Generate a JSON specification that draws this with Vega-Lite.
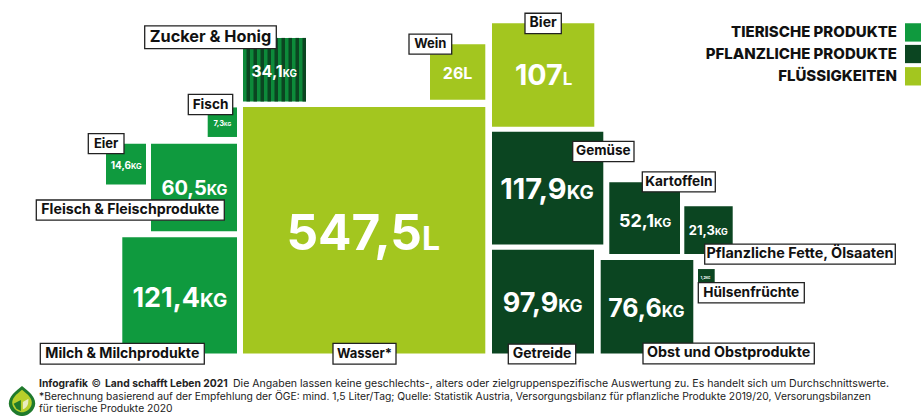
{"$schema":"https://vega.github.io/schema/vega-lite/v6.json","width":921,"height":416,"padding":0,"autosize":{"type":"fit","contains":"padding"},"background":"white","config":{"view":{"stroke":null}},
"resolve":{"scale":{"size":"independent"}},
"datasets":{
"blocks":[
{"name":"Zucker & Honig","cat":"Zucker","x":243,"x2":306,"y":38,"y2":101.7,"num":"34,1","unit":"KG","split":282.7,"ym":77.3},
{"name":"Fisch","cat":"Tierische Produkte","x":207.7,"x2":237,"y":107.7,"y2":137.3,"num":"7,3","unit":"KG","split":224,"ym":126},
{"name":"Eier","cat":"Tierische Produkte","x":106,"x2":146,"y":144,"y2":185,"num":"14,6","unit":"KG","split":131,"ym":169},
{"name":"Fleisch & Fleischprodukte","cat":"Tierische Produkte","x":151,"x2":237,"y":144,"y2":231.7,"num":"60,5","unit":"KG","split":206.7,"ym":195.7},
{"name":"Milch & Milchprodukte","cat":"Tierische Produkte","x":122.3,"x2":237,"y":237.7,"y2":354.3,"num":"121,4","unit":"KG","split":200,"ym":307.3},
{"name":"Wasser*","cat":"Flüssigkeiten","x":243,"x2":485.3,"y":107.3,"y2":354.3,"num":"547,5","unit":"L","split":422,"ym":251},
{"name":"Wein","cat":"Flüssigkeiten","x":430,"x2":485.3,"y":44.3,"y2":100,"num":"26","unit":"L","split":463.3,"ym":79},
{"name":"Bier","cat":"Flüssigkeiten","x":492,"x2":594.3,"y":23.3,"y2":127,"num":"107","unit":"L","split":562.7,"ym":85.7},
{"name":"Gemüse","cat":"Pflanzliche Produkte","x":492,"x2":603.3,"y":132,"y2":245,"num":"117,9","unit":"KG","split":566.7,"ym":199},
{"name":"Getreide","cat":"Pflanzliche Produkte","x":492,"x2":594,"y":250.3,"y2":354.3,"num":"97,9","unit":"KG","split":558.3,"ym":312.7},
{"name":"Kartoffeln","cat":"Pflanzliche Produkte","x":609.3,"x2":680,"y":182.7,"y2":254.7,"num":"52,1","unit":"KG","split":654,"ym":227.3},
{"name":"Pflanzliche Fette, Ölsaaten","cat":"Pflanzliche Produkte","x":684.3,"x2":732.7,"y":206.7,"y2":254.7,"num":"21,3","unit":"KG","split":715,"ym":236},
{"name":"Obst und Obstprodukte","cat":"Pflanzliche Produkte","x":600.7,"x2":693.3,"y":260.7,"y2":354.3,"num":"76,6","unit":"KG","split":661.7,"ym":318},
{"name":"Hülsenfrüchte","cat":"Pflanzliche Produkte","x":698,"x2":714.7,"y":269.7,"y2":283,"num":"1,2","unit":"KG","split":706,"ym":279.3}
],
"stripes":[
{"x":246.5,"x2":250,"y":38,"y2":101.7},{"x":253.5,"x2":257,"y":38,"y2":101.7},{"x":260.5,"x2":264,"y":38,"y2":101.7},{"x":267.5,"x2":271,"y":38,"y2":101.7},{"x":274.5,"x2":278,"y":38,"y2":101.7},{"x":281.5,"x2":285,"y":38,"y2":101.7},{"x":288.5,"x2":292,"y":38,"y2":101.7},{"x":295.5,"x2":299,"y":38,"y2":101.7},{"x":302.5,"x2":306,"y":38,"y2":101.7}
],
"labels":[
{"name":"Zucker & Honig","x":144.7,"x2":276.3,"y":26,"y2":48.7},
{"name":"Fisch","x":188.3,"x2":232.7,"y":94.7,"y2":115},
{"name":"Eier","x":88.3,"x2":124,"y":134,"y2":154},
{"name":"Fleisch & Fleischprodukte","x":36.3,"x2":224.3,"y":200.5,"y2":220.7},
{"name":"Milch & Milchprodukte","x":40.3,"x2":204.3,"y":344.3,"y2":365},
{"name":"Wasser*","x":333,"x2":396,"y":344.3,"y2":365},
{"name":"Wein","x":409,"x2":451.7,"y":34.3,"y2":54.3},
{"name":"Bier","x":525,"x2":561.3,"y":13.3,"y2":33.7},
{"name":"Gemüse","x":572.7,"x2":634,"y":141.7,"y2":162},
{"name":"Getreide","x":508.3,"x2":575.7,"y":345,"y2":364.7},
{"name":"Kartoffeln","x":642.3,"x2":715.3,"y":172.3,"y2":192.3},
{"name":"Pflanzliche Fette, Ölsaaten","x":704.7,"x2":895.3,"y":244.7,"y2":264.7},
{"name":"Obst und Obstprodukte","x":643,"x2":814.3,"y":344,"y2":364.7},
{"name":"Hülsenfrüchte","x":698.3,"x2":804.3,"y":283.3,"y2":303.7}
],
"legend":[
{"cat":"Tierische Produkte","text":"TIERISCHE PRODUKTE","x":905,"x2":921,"y":23.3,"y2":41.7,"tx":897,"ty":32.5},
{"cat":"Pflanzliche Produkte","text":"PFLANZLICHE PRODUKTE","x":905,"x2":921,"y":45,"y2":63.3,"tx":897,"ty":54},
{"cat":"Flüssigkeiten","text":"FLÜSSIGKEITEN","x":905,"x2":921,"y":67.3,"y2":85.7,"tx":897,"ty":76.5}
],
"footb":[
{"t":"Infografik","x":39,"y":385},
{"t":"Land schafft Leben 2021","x":105,"y":385}
],
"foot1":[
{"t":"Die Angaben lassen keine geschlechts-, alters oder zielgruppenspezifische Auswertung zu. Es handelt sich um Durchschnittswerte.","x":233,"y":385}
],
"footr":[
{"t":"©","x":91.5,"y":385},
{"t":"*Berechnung basierend auf der Empfehlung der ÖGE: mind. 1,5 Liter/Tag; Quelle: Statistik Austria, Versorgungsbilanz für pflanzliche Produkte 2019/20, Versorungsbilanzen","x":39,"y":397.5},
{"t":"für tierische Produkte 2020","x":39,"y":409.5}
],
"logo":[{"x":22,"y":402}]
},
"layer":[
{"data":{"name":"blocks"},"mark":{"type":"rect"},"encoding":{
"x":{"field":"x","type":"quantitative","scale":{"domain":[0,921],"nice":false,"zero":false},"axis":null},"x2":{"field":"x2"},
"y":{"field":"y","type":"quantitative","scale":{"domain":[416,0],"nice":false,"zero":false},"axis":null},"y2":{"field":"y2"},
"color":{"field":"cat","type":"nominal","scale":{"domain":["Tierische Produkte","Pflanzliche Produkte","Flüssigkeiten","Zucker"],"range":["#0f9a3e","#0b4521","#a3c61f","#0d8a3a"]},"legend":null}}},
{"data":{"name":"stripes"},"mark":{"type":"rect","color":"#0b4521"},"encoding":{
"x":{"field":"x","type":"quantitative","axis":null},"x2":{"field":"x2"},
"y":{"field":"y","type":"quantitative","axis":null},"y2":{"field":"y2"}}},
{"data":{"name":"legend"},"mark":{"type":"rect"},"encoding":{
"x":{"field":"x","type":"quantitative","axis":null},"x2":{"field":"x2"},
"y":{"field":"y","type":"quantitative","axis":null},"y2":{"field":"y2"},
"color":{"field":"cat","type":"nominal","legend":null}}},
{"data":{"name":"legend"},"mark":{"type":"text","align":"right","baseline":"middle","font":"Inter","fontWeight":800,"fontSize":15,"color":"#111"},"encoding":{
"x":{"field":"tx","type":"quantitative","axis":null},"y":{"field":"ty","type":"quantitative","axis":null},"text":{"field":"text"}}},
{"data":{"name":"blocks"},"mark":{"type":"text","align":"right","baseline":"alphabetic","font":"Inter","fontWeight":700,"color":"white"},"encoding":{
"x":{"field":"split","type":"quantitative","axis":null},"y":{"field":"ym","type":"quantitative","axis":null},"text":{"field":"num"},
"size":{"field":"name","type":"nominal","legend":null,"scale":{"type":"ordinal","domain":["Zucker & Honig","Fisch","Eier","Fleisch & Fleischprodukte","Milch & Milchprodukte","Wasser*","Wein","Bier","Gemüse","Getreide","Kartoffeln","Pflanzliche Fette, Ölsaaten","Obst und Obstprodukte","Hülsenfrüchte"],"range":[16,7.5,10,20,27,49.5,16,28.6,29,27,18,13,25,4]}}}},
{"data":{"name":"blocks"},"mark":{"type":"text","align":"left","baseline":"alphabetic","font":"Inter","fontWeight":700,"color":"white"},"encoding":{
"x":{"field":"split","type":"quantitative","axis":null},"y":{"field":"ym","type":"quantitative","axis":null},"text":{"field":"unit"},
"size":{"field":"name","type":"nominal","legend":null,"scale":{"type":"ordinal","domain":["Zucker & Honig","Fisch","Eier","Fleisch & Fleischprodukte","Milch & Milchprodukte","Wasser*","Wein","Bier","Gemüse","Getreide","Kartoffeln","Pflanzliche Fette, Ölsaaten","Obst und Obstprodukte","Hülsenfrüchte"],"range":[10,5,7.5,14.5,19,32,16,17,19,17,12,9,16,3]}}}},
{"data":{"name":"labels"},"mark":{"type":"rect","fill":"white","stroke":"#222","strokeWidth":1.3},"encoding":{
"x":{"field":"x","type":"quantitative","axis":null},"x2":{"field":"x2"},
"y":{"field":"y","type":"quantitative","axis":null},"y2":{"field":"y2"}}},
{"data":{"name":"labels"},"transform":[{"calculate":"(datum.x+datum.x2)/2","as":"cx"},{"calculate":"(datum.y+datum.y2)/2","as":"cy"}],"mark":{"type":"text","align":"center","baseline":"middle","font":"Inter","fontWeight":700,"color":"#111"},"encoding":{
"x":{"field":"cx","type":"quantitative","axis":null},"y":{"field":"cy","type":"quantitative","axis":null},"text":{"field":"name"},
"size":{"field":"name","type":"nominal","legend":null,"scale":{"type":"ordinal","domain":["Zucker & Honig","Fisch","Eier","Fleisch & Fleischprodukte","Milch & Milchprodukte","Wasser*","Wein","Bier","Gemüse","Getreide","Kartoffeln","Pflanzliche Fette, Ölsaaten","Obst und Obstprodukte","Hülsenfrüchte"],"range":[16.3,13.6,13,14.2,14.1,13,13,14,13.5,14,13.7,14.4,14.3,13.7]}}}},
{"data":{"name":"footb"},"mark":{"type":"text","align":"left","baseline":"middle","font":"Inter","fontSize":10.3,"fontWeight":700,"color":"#222"},"encoding":{
"x":{"field":"x","type":"quantitative","axis":null},"y":{"field":"y","type":"quantitative","axis":null},"text":{"field":"t"}}},
{"data":{"name":"foot1"},"mark":{"type":"text","align":"left","baseline":"middle","font":"Inter","fontSize":10.55,"fontWeight":400,"color":"#222"},"encoding":{
"x":{"field":"x","type":"quantitative","axis":null},"y":{"field":"y","type":"quantitative","axis":null},"text":{"field":"t"}}},
{"data":{"name":"footr"},"mark":{"type":"text","align":"left","baseline":"middle","font":"Inter","fontSize":10.3,"fontWeight":400,"color":"#222"},"encoding":{
"x":{"field":"x","type":"quantitative","axis":null},"y":{"field":"y","type":"quantitative","axis":null},"text":{"field":"t"}}},
{"data":{"name":"logo"},"mark":{"type":"point","filled":true,"opacity":1,"color":"#1f7a2c","size":900,"shape":"M0,-1 C0.5,-0.6 1,-0.2 0.85,0.35 C0.7,0.8 0.3,1 0,1 C-0.3,1 -0.7,0.8 -0.85,0.35 C-1,-0.2 -0.5,-0.6 0,-1Z"},"encoding":{
"x":{"field":"x","type":"quantitative","axis":null},"y":{"field":"y","type":"quantitative","axis":null}}},
{"data":{"name":"logo"},"mark":{"type":"point","filled":true,"opacity":1,"color":"#b7cf2b","size":500,"shape":"M0,-1 C0.5,-0.6 1,-0.2 0.85,0.35 C0.7,0.8 0.3,1 0,1 C-0.3,1 -0.7,0.8 -0.85,0.35 C-1,-0.2 -0.5,-0.6 0,-1Z"},"encoding":{
"x":{"field":"x","type":"quantitative","axis":null},"y":{"field":"y","type":"quantitative","axis":null}}},
{"data":{"name":"logo"},"mark":{"type":"point","filled":true,"opacity":1,"color":"#e9ecc0","size":300,"shape":"M0.1,0.1 L0.75,-0.25 L0.7,0.35 C0.6,0.7 0.3,0.9 0.1,0.95Z"},"encoding":{
"x":{"field":"x","type":"quantitative","axis":null},"y":{"field":"y","type":"quantitative","axis":null}}},
{"data":{"name":"logo"},"mark":{"type":"point","filled":true,"opacity":1,"color":"#1f7a2c","size":500,"shape":"M-0.1,-0.1 L-0.1,0.9 L-0.5,0.7 L-0.75,0.25Z"},"encoding":{
"x":{"field":"x","type":"quantitative","axis":null},"y":{"field":"y","type":"quantitative","axis":null}}}
]}
